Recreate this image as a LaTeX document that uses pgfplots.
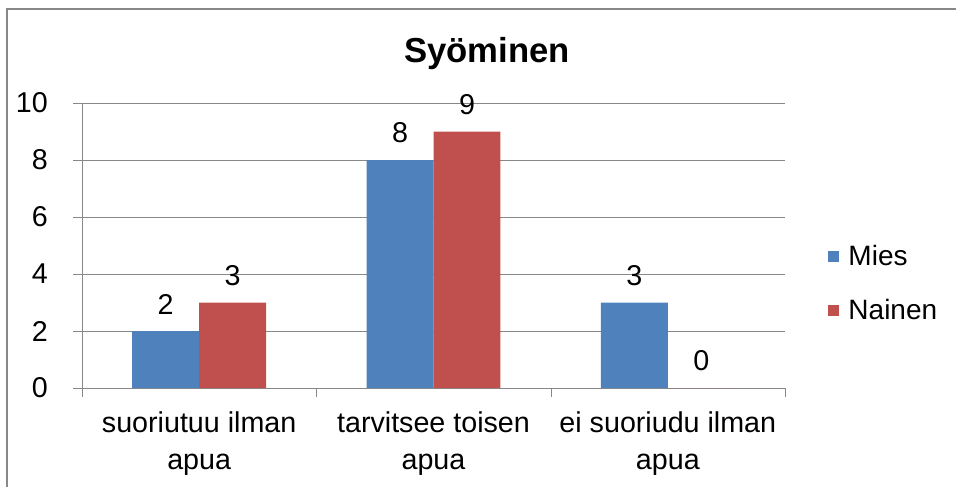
\documentclass[border=0pt]{standalone}
\usepackage{fontspec}
\setmainfont{Liberation Sans}
\usepackage{pgfplots}
\pgfplotsset{compat=1.18}
\definecolor{mies}{HTML}{4F81BD}
\definecolor{nainen}{HTML}{C0504D}
\definecolor{gridc}{HTML}{888888}
\begin{document}
\begin{tikzpicture}
\useasboundingbox (0,0) rectangle (717pt,364.5pt);
\draw[color=gridc, line width=1.5pt] (5.25pt,-2pt) -- (5.25pt,357.75pt) -- (719pt,357.75pt);
\begin{axis}[
  at={(61.5pt,73.5pt)}, anchor=south west,
  scale only axis, width=527.25pt, height=213.75pt,
  ybar, bar width=0.2857,
  xmin=-0.5, xmax=2.5, ymin=0, ymax=10, ytick={0,2,4,6,8,10},
  xtick={0,1,2},
  xticklabels={{suoriutuu ilman\\apua},{tarvitsee toisen\\apua},{ei suoriudu ilman\\apua}},
  minor xtick={-0.5,0.5,1.5,2.5},
  axis x line*=bottom, axis y line*=left,
  axis line style={color=gridc, -},
  tick align=outside, major tick length=6.75pt, minor tick length=6.75pt,
  tick style={color=gridc},
  major x tick style={draw=none},
  ymajorgrids, grid style={color=gridc},
  /pgf/number format/assume math mode=true,
  ticklabel style={font=\fontsize{21.5}{27.5}\selectfont},
  xticklabel style={align=center, yshift=-7.5pt},
  yticklabel style={anchor=east, inner sep=0pt, xshift=-18.75pt},
  title={\textbf{Syöminen}},
  title style={font=\fontsize{26}{30}\selectfont, at={(rel axis cs:0.576,1)}, anchor=base, yshift=24pt},
  nodes near coords,
  nodes near coords style={font=\fontsize{21.5}{25}\selectfont, anchor=center, yshift=20.25pt},
  legend style={draw=none, at={(rel axis cs:1.061,0.367)}, anchor=west, font=\fontsize{21}{25}\selectfont, row sep=19.5pt, column sep=5pt, inner sep=0pt},
  legend cell align=left,
]
\addplot[fill=mies, draw=none, bar shift=-0.142857, legend image code/.code={\fill[mies] (0pt,-4.1pt) rectangle (8.25pt,4.1pt);}] coordinates {(0,2) (1,8) (2,3)};
\addplot[fill=nainen, draw=none, bar shift=0.142857, legend image code/.code={\fill[nainen] (0pt,-4.1pt) rectangle (8.25pt,4.1pt);}] coordinates {(0,3) (1,9) (2,0)};
\legend{Mies,Nainen}
\end{axis}
\end{tikzpicture}
\end{document}
